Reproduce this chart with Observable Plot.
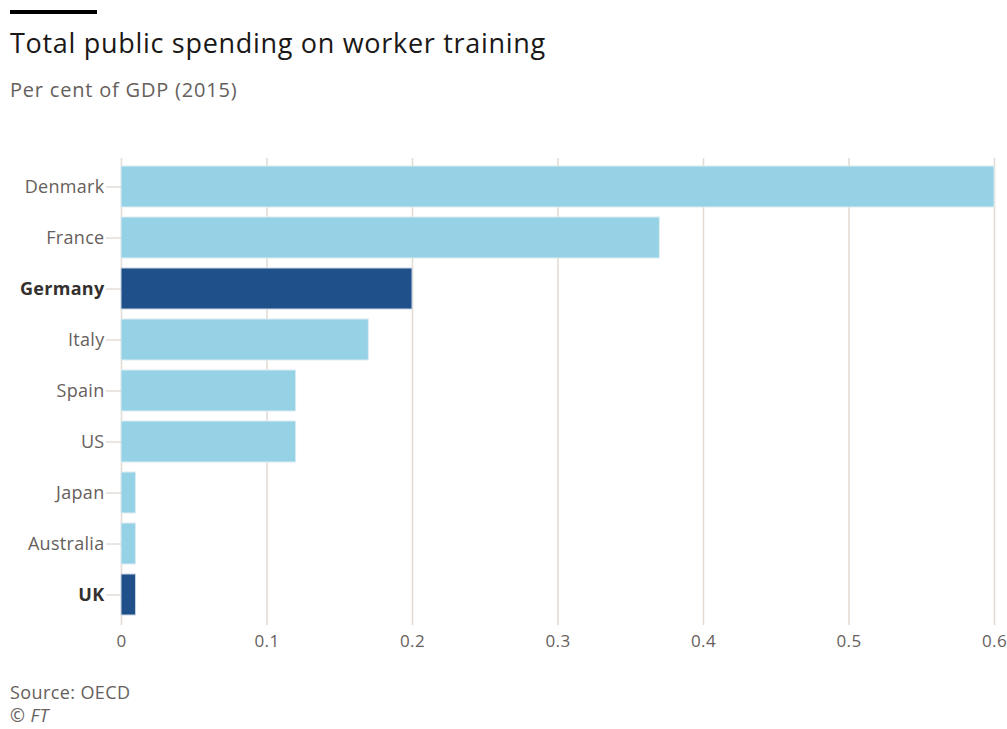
<!DOCTYPE html>
<html>
<head>
<meta charset="utf-8">
<script src="https://cdn.jsdelivr.net/npm/d3@7"></script>
<script src="https://cdn.jsdelivr.net/npm/@observablehq/plot@0.6"></script>
<style>
  html, body { margin: 0; padding: 0; background: #fff; width: 1007px; height: 729px; overflow: hidden; }
  body { position: relative; font-family: "Open Sans", "Noto Sans", sans-serif; }
  .rule { position: absolute; left: 10px; top: 10px; width: 87px; height: 4px; background: #000; }
  .title { position: absolute; left: 10px; top: 24px; font-size: 27px; color: #1a1817; letter-spacing: 0.7px; white-space: nowrap; }
  .subtitle { position: absolute; left: 10px; top: 76px; font-size: 20px; color: #66605c; letter-spacing: 0.8px; white-space: nowrap; }
  .source { position: absolute; left: 10px; top: 681px; font-size: 18px; color: #66605c; line-height: 23px; letter-spacing: 0.4px; }
  #chart { position: absolute; left: 0; top: 140px; }
  #chart svg text { letter-spacing: 0.3px; }
</style>
</head>
<body>
<div class="rule"></div>
<div class="title">Total public spending on worker training</div>
<div class="subtitle">Per cent of GDP (2015)</div>
<div id="chart"></div>
<div class="source">Source: OECD<br>© <i>FT</i></div>
<script>
const countries = ["Denmark", "France", "Germany", "Italy", "Spain", "US", "Japan", "Australia", "UK"];
const values = [0.6, 0.37, 0.2, 0.17, 0.12, 0.12, 0.01, 0.01, 0.01];
const highlighted = ["Germany", "UK"];
const xTicks = [0, 0.1, 0.2, 0.3, 0.4, 0.5, 0.6];

const data = countries.map((c, i) => ({country: c, value: values[i], hi: highlighted.includes(c)}));
const normal = countries.filter(c => !highlighted.includes(c));

const chart = Plot.plot({
  width: 1007,
  height: 525,
  marginTop: 18,
  marginBottom: 43,
  marginLeft: 121,
  marginRight: 13,
  style: {fontFamily: "'Open Sans', 'Noto Sans', sans-serif", fontSize: "17px", color: "#66605c", background: "transparent", overflow: "visible"},
  x: {domain: [0, 0.6], ticks: xTicks},
  y: {domain: countries, paddingInner: 0.2, paddingOuter: 0.13},
  marks: [
    Plot.ruleX(xTicks, {stroke: "#e3dad2", strokeWidth: 1.5, insetBottom: -3}),
    Plot.barX(data, {
      y: "country", x: "value",
      fill: d => d.hi ? "#1f5089" : "#96d2e6",
      stroke: d => d.hi ? "#c9d6e3" : "#dcecf2",
      strokeWidth: 1
    }),
    Plot.axisX({ticks: xTicks, tickSize: 0, tickPadding: 12, tickFormat: d => String(d), fill: "#66605c", fontSize: 17, label: null}),
    Plot.axisY({ticks: normal, tickSize: 15, tickPadding: 2, stroke: "#d6ccc4", fill: "#66605c", fontSize: 18, label: null}),
    Plot.axisY({ticks: highlighted, tickSize: 15, tickPadding: 2, stroke: "#d6ccc4", fill: "#33302e", fontWeight: "bold", fontSize: 18, label: null})
  ]
});
document.getElementById("chart").appendChild(chart);
</script>
</body>
</html>
